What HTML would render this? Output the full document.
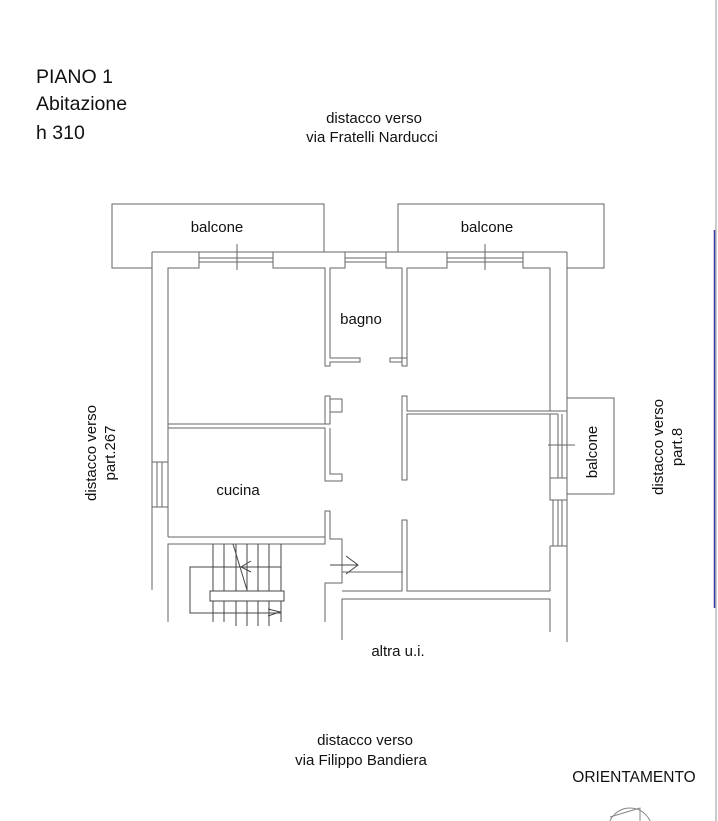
<!DOCTYPE html>
<html><head><meta charset="utf-8"><style>
html,body{margin:0;padding:0;background:#fff;}
svg{display:block;}
text{font-family:"Liberation Sans",sans-serif;fill:#111;}
</style></head><body>
<svg width="718" height="821" viewBox="0 0 718 821" xmlns="http://www.w3.org/2000/svg">
<g font-size="19.5">
<text x="36" y="83">PIANO 1</text>
<text x="36" y="110">Abitazione</text>
<text x="36" y="139">h 310</text>
</g>
<g font-size="15" text-anchor="middle">
<text x="374" y="123">distacco verso</text>
<text x="372" y="142">via Fratelli Narducci</text>
<text x="217" y="232">balcone</text>
<text x="487" y="232">balcone</text>
<text x="361" y="324">bagno</text>
<text x="238" y="495">cucina</text>
<text x="398" y="656">altra u.i.</text>
<text x="365" y="745">distacco verso</text>
<text x="361" y="765">via Filippo  Bandiera</text>
<text x="634" y="782" font-size="15.5">ORIENTAMENTO</text>
<text transform="translate(96,453) rotate(-90)">distacco verso</text>
<text transform="translate(115,453) rotate(-90)">part.267</text>
<text transform="translate(663,447) rotate(-90)">distacco verso</text>
<text transform="translate(682,447) rotate(-90)">part.8</text>
<text transform="translate(597,452) rotate(-90)">balcone</text>
</g>
<g fill="none" stroke="#666" stroke-width="1">
<polyline points="152,268 112,268 112,204 324,204 324,252"/>
<polyline points="398,252 398,204 604,204 604,268 567,268"/>
<rect x="567" y="398" width="47" height="96"/>
<line x1="152" y1="252" x2="567" y2="252"/>
<polyline points="152,252 152,462"/>
<polyline points="152,507 152,590"/>
<polyline points="567,252 567,642"/>
<polyline points="168,462 168,268 199,268 199,252"/>
<polyline points="273,252 273,268 325,268 325,366 330,366 330,362 360,362 360,358 330,358 330,268 345,268 345,252"/>
<polyline points="386,252 386,268 402,268 402,366 407,366 407,358 390,358 390,362 402,362"/>
<polyline points="407,358 407,268 447,268 447,252"/>
<polyline points="523,252 523,268 550,268 550,411 407,411 407,396 402,396 402,480 407,480 407,414 558,414"/>
<line x1="550" y1="411" x2="567" y2="411"/>
<line x1="199" y1="258" x2="273" y2="258"/><line x1="199" y1="262" x2="273" y2="262"/>
<line x1="237" y1="244" x2="237" y2="270"/>
<line x1="345" y1="258" x2="386" y2="258"/><line x1="345" y1="262" x2="386" y2="262"/>
<line x1="447" y1="258" x2="523" y2="258"/><line x1="447" y1="262" x2="523" y2="262"/>
<line x1="485" y1="244" x2="485" y2="270"/>
<rect x="152" y="462" width="16" height="45"/>
<line x1="157" y1="462" x2="157" y2="507"/><line x1="162" y1="462" x2="162" y2="507"/>
<line x1="168" y1="507" x2="168" y2="537"/>
<polyline points="325,396 330,396 330,424 168,424"/>
<polyline points="168,428 325,428 325,481 342,481 342,474 330,474 330,428"/>
<polyline points="330,396 330,399 342,399 342,412 330,412"/>
<line x1="325" y1="396" x2="325" y2="424"/>
<polyline points="168,537 325,537 325,511 330,511 330,539 342,539 342,572"/>
<polyline points="342,572 403,572"/>
<polyline points="168,622 168,544 325,544 325,511"/>
<polyline points="342,572 342,583 325,583 325,622"/>
<polyline points="342,591 402,591 402,520 407,520 407,591 550,591"/>
<polyline points="342,640 342,599 550,599 550,632"/>
<polyline points="550,414 550,478 567,478"/>
<line x1="558" y1="414" x2="558" y2="478"/><line x1="562" y1="414" x2="562" y2="478"/>
<line x1="548" y1="445" x2="575" y2="445"/>
<polyline points="550,478 550,500 567,500"/>
<line x1="553" y1="500" x2="553" y2="546"/><line x1="558" y1="500" x2="558" y2="546"/><line x1="562" y1="500" x2="562" y2="546"/>
<line x1="550" y1="546" x2="567" y2="546"/>
<line x1="550" y1="546" x2="550" y2="591"/>
<g stroke="#444">
<line x1="213" y1="544" x2="213" y2="622"/><line x1="224" y1="544" x2="224" y2="622"/>
<line x1="236" y1="544" x2="236" y2="626"/><line x1="247" y1="544" x2="247" y2="626"/>
<line x1="258" y1="544" x2="258" y2="626"/><line x1="269" y1="544" x2="269" y2="626"/>
<line x1="281" y1="544" x2="281" y2="622"/>
<polyline points="281,567 190,567 190,613 281,613"/>
<rect x="210" y="591" width="74" height="10" fill="#fff"/>
<line x1="233" y1="544" x2="247" y2="590"/>
<polyline points="251,561 241,567 251,572"/><line x1="241" y1="567" x2="256" y2="567"/>
<polyline points="268,609 280,612 268,616"/>
<line x1="330" y1="565" x2="358" y2="565"/>
<polyline points="346,556 358,565 346,574"/>
</g>
</g>
<line x1="716" y1="0" x2="716" y2="821" stroke="#999" stroke-width="1"/>
<line x1="714.5" y1="230" x2="714.5" y2="608" stroke="#3a3aa8" stroke-width="1.5"/>
<circle cx="630" cy="830" r="22" fill="none" stroke="#888" stroke-width="1"/>
<polyline points="610,817 640,808 640,821" fill="none" stroke="#888"/>
</svg>
</body></html>
